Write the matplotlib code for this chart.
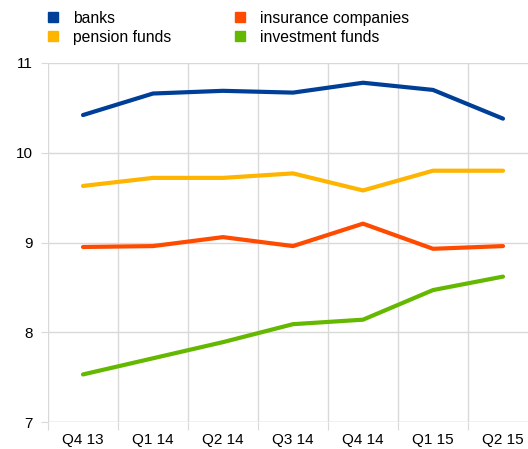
import matplotlib.pyplot as plt
from matplotlib.lines import Line2D

quarters = ['Q4 13', 'Q1 14', 'Q2 14', 'Q3 14', 'Q4 14', 'Q1 15', 'Q2 15']
banks = [10.42, 10.66, 10.69, 10.67, 10.78, 10.70, 10.38]
pension_funds = [9.63, 9.72, 9.72, 9.77, 9.58, 9.80, 9.80]
insurance = [8.95, 8.96, 9.06, 8.96, 9.21, 8.93, 8.96]
investment_funds = [7.53, 7.71, 7.89, 8.09, 8.14, 8.47, 8.62]

colors = {'banks': '#003f98', 'insurance companies': '#ff4b00',
          'pension funds': '#ffb400', 'investment funds': '#65b800'}

plt.rcParams['font.family'] = ['Liberation Sans', 'DejaVu Sans']

fig = plt.figure(figsize=(5.28, 4.49), dpi=100)
ax = fig.add_axes([48 / 528, 1 - 422 / 449, 490 / 528, 359 / 449])

x = range(len(quarters))
series = [('banks', banks), ('insurance companies', insurance),
          ('pension funds', pension_funds), ('investment funds', investment_funds)]
for name, vals in series:
    ax.plot(x, vals, color=colors[name], lw=3, solid_capstyle='round', zorder=3)

ax.set_xlim(-0.5, len(quarters) - 0.5)
ax.set_ylim(7, 11)
ax.set_yticks([7, 8, 9, 10, 11])
ax.set_xticks([i - 0.5 for i in range(len(quarters))], minor=False)
ax.set_xticklabels([])
ax.set_xticks(list(x), minor=True)
ax.set_xticklabels(quarters, minor=True)
ax.tick_params(axis='x', which='minor', length=0, pad=8, labelsize=11)
ax.tick_params(axis='x', which='major', length=6, color='#d9d9d9')
ax.tick_params(axis='y', length=5, color='#d9d9d9', labelsize=11, pad=6)
ax.grid(True, which='major', color='#d9d9d9', lw=1)
for s in ax.spines.values():
    s.set_visible(False)
ax.axhline(7, color='#d9d9d9', lw=1)

handles = [Line2D([], [], ls='', marker='s', ms=7.5, color=colors[n])
           for n in ['banks', 'pension funds', 'insurance companies', 'investment funds']]
labels = ['banks', 'pension funds', 'insurance companies', 'investment funds']
fig.legend(handles, labels, ncol=2, loc='upper left', bbox_to_anchor=(31 / 528, 1.007),
           frameon=False, fontsize=11.3, handletextpad=0.8, columnspacing=3.85,
           labelspacing=0.25, handlelength=1.0)

fig.savefig('out.png', dpi=100)
